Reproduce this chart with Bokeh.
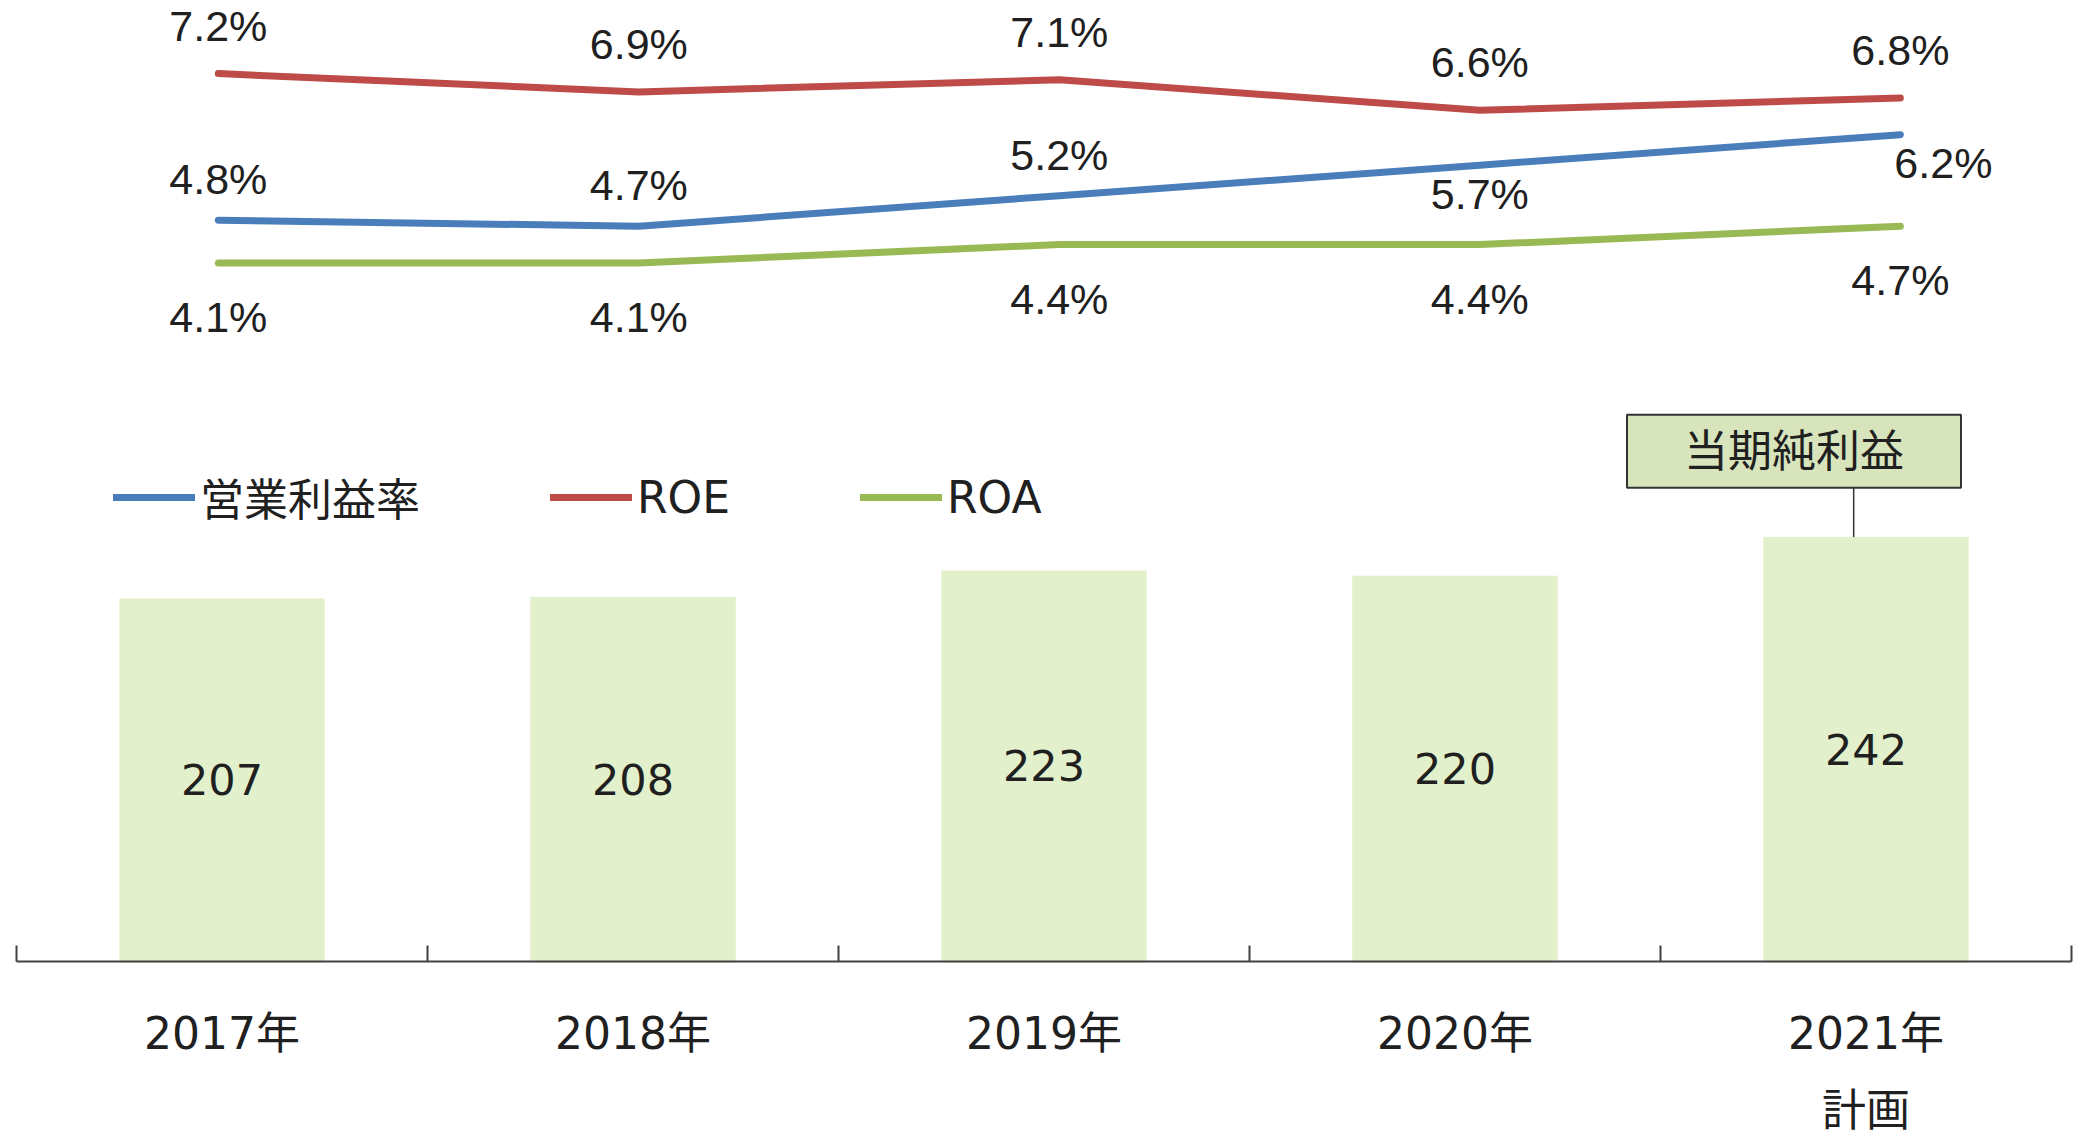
from bokeh.plotting import figure
from bokeh.models import (Range1d, ColumnDataSource, Legend, LegendItem,
                          Label, FixedTicker)
from bokeh.core.properties import value
from bokeh.embed import file_html
from bokeh.resources import INLINE

# ---- data ----
years = ["2017年", "2018年", "2019年", "2020年", "2021年"]
plan_note = "計画"
net_income = [207, 208, 223, 220, 242]
op_margin = [4.8, 4.7, 5.2, 5.7, 6.2]
roe = [7.2, 6.9, 7.1, 6.6, 6.8]
roa = [4.1, 4.1, 4.4, 4.4, 4.7]
series_names = ["営業利益率", "ROE", "ROA"]
bar_name = "当期純利益"

# ---- styles ----
W, H = 2080, 1138
BAR_COLOR = "#E2F0CB"
BOX_COLOR = "#D7E4BC"
BLUE, RED, GREEN = "#4A7EBB", "#BE4B48", "#98B954"
TXT = "#202020"
SANS = "'DejaVu Sans', 'Noto Sans CJK JP'"
ARIAL = "Liberation Sans"

n = len(years)
centers = [i + 0.5 for i in range(n)]
bounds = list(range(n + 1))

p = figure(width=W, height=H,
           x_range=Range1d(0, n),
           y_range=Range1d(0, 548),
           output_backend="svg", toolbar_location=None,
           y_axis_location=None,
           min_border_left=16, min_border_right=9,
           min_border_top=0, min_border_bottom=170)
p.outline_line_color = None
p.grid.visible = False
p.background_fill_color = "white"
p.border_fill_color = "white"

p.extra_x_ranges = {"lx": Range1d(-0.480, 4.407)}
p.extra_y_ranges = {"ly": Range1d(-7.341, 8.397)}

# ---- bars ----
bsrc = ColumnDataSource(dict(
    x=centers, net=net_income,
    mid=[v / 2 for v in net_income],
    lab=[str(v) for v in net_income]))
p.vbar(x="x", top="net", width=0.5, source=bsrc,
       fill_color=BAR_COLOR, line_color=None)
p.text(x="x", y="mid", text="lab", source=bsrc,
       text_font=value(SANS), text_font_size="43px", text_color=TXT,
       text_align="center", text_baseline="middle")

# ---- lines ----
idx = list(range(n))
renderers = []
for vals, col in zip([op_margin, roe, roa], [BLUE, RED, GREEN]):
    r = p.line(idx, vals, line_color=col, line_width=7, line_cap="round",
               line_join="round", x_range_name="lx", y_range_name="ly")
    renderers.append(r)

def pct_labels(vals, xoffs, yoffs):
    src = ColumnDataSource(dict(x=idx, y=vals, t=[f"{v:.1f}%" for v in vals],
                                xo=xoffs, yo=yoffs))
    p.text(x="x", y="y", text="t", x_offset="xo", y_offset="yo", source=src,
           x_range_name="lx", y_range_name="ly",
           text_font=value(ARIAL), text_font_size="43px", text_color=TXT,
           text_align="center", text_baseline="middle")

placement = {"above": (0, -41), "below": (0, 29), "below_right": (43, 28)}
op_side = ["above", "above", "above", "below", "below_right"]
pct_labels(op_margin, [placement[s][0] for s in op_side], [placement[s][1] for s in op_side])
pct_labels(roe, [0] * n, [-48] * n)
pct_labels(roa, [0] * n, [54] * n)

# ---- legend ----
legend = Legend(items=[LegendItem(label=s, renderers=[r]) for s, r in zip(series_names, renderers)],
                orientation="horizontal", location=(97, 432),
                glyph_width=82, glyph_height=50, label_height=50,
                label_standoff=5, spacing=130, padding=0, margin=0,
                label_text_font=SANS, label_text_font_size="44px",
                label_text_color=TXT,
                border_line_color=None, background_fill_alpha=0)
p.add_layout(legend)

# ---- x axis: labels at category centres, ticks at category boundaries ----
labels = list(years)
labels[-1] = years[-1] + "\n" + plan_note
ax = p.xaxis[0]
ax.ticker = FixedTicker(ticks=centers, minor_ticks=bounds)
ax.major_label_overrides = {c: t for c, t in zip(centers, labels)}
ax.major_label_text_font = SANS
ax.major_label_text_font_size = "44px"
ax.major_label_text_color = TXT
ax.major_label_text_line_height = 1.51
ax.major_label_text_baseline = "top"
ax.major_tick_line_color = None
ax.minor_tick_line_color = "#404040"
ax.minor_tick_line_width = 2
ax.minor_tick_in = 16
ax.minor_tick_out = 0
ax.major_tick_out = 0
ax.major_label_standoff = 46
ax.axis_line_width = 2
ax.axis_line_color = "#404040"

# ---- callout for bars ----
annot_y = net_income[-1] + 49
box = Label(x=centers[-1], y=annot_y, x_offset=-72, text=bar_name,
            text_font=SANS, text_font_size="44px", text_color=TXT,
            text_align="center", text_baseline="middle",
            background_fill_color=BOX_COLOR, border_line_color="#333333",
            border_line_width=2, padding=(57, 11))
p.add_layout(box)
p.segment(x0=[centers[-1] - 0.03], y0=[net_income[-1]],
          x1=[centers[-1] - 0.03], y1=[annot_y - 19.2],
          line_color="#333333", line_width=1.5)

open("out.html", "w").write(file_html(p, INLINE))
